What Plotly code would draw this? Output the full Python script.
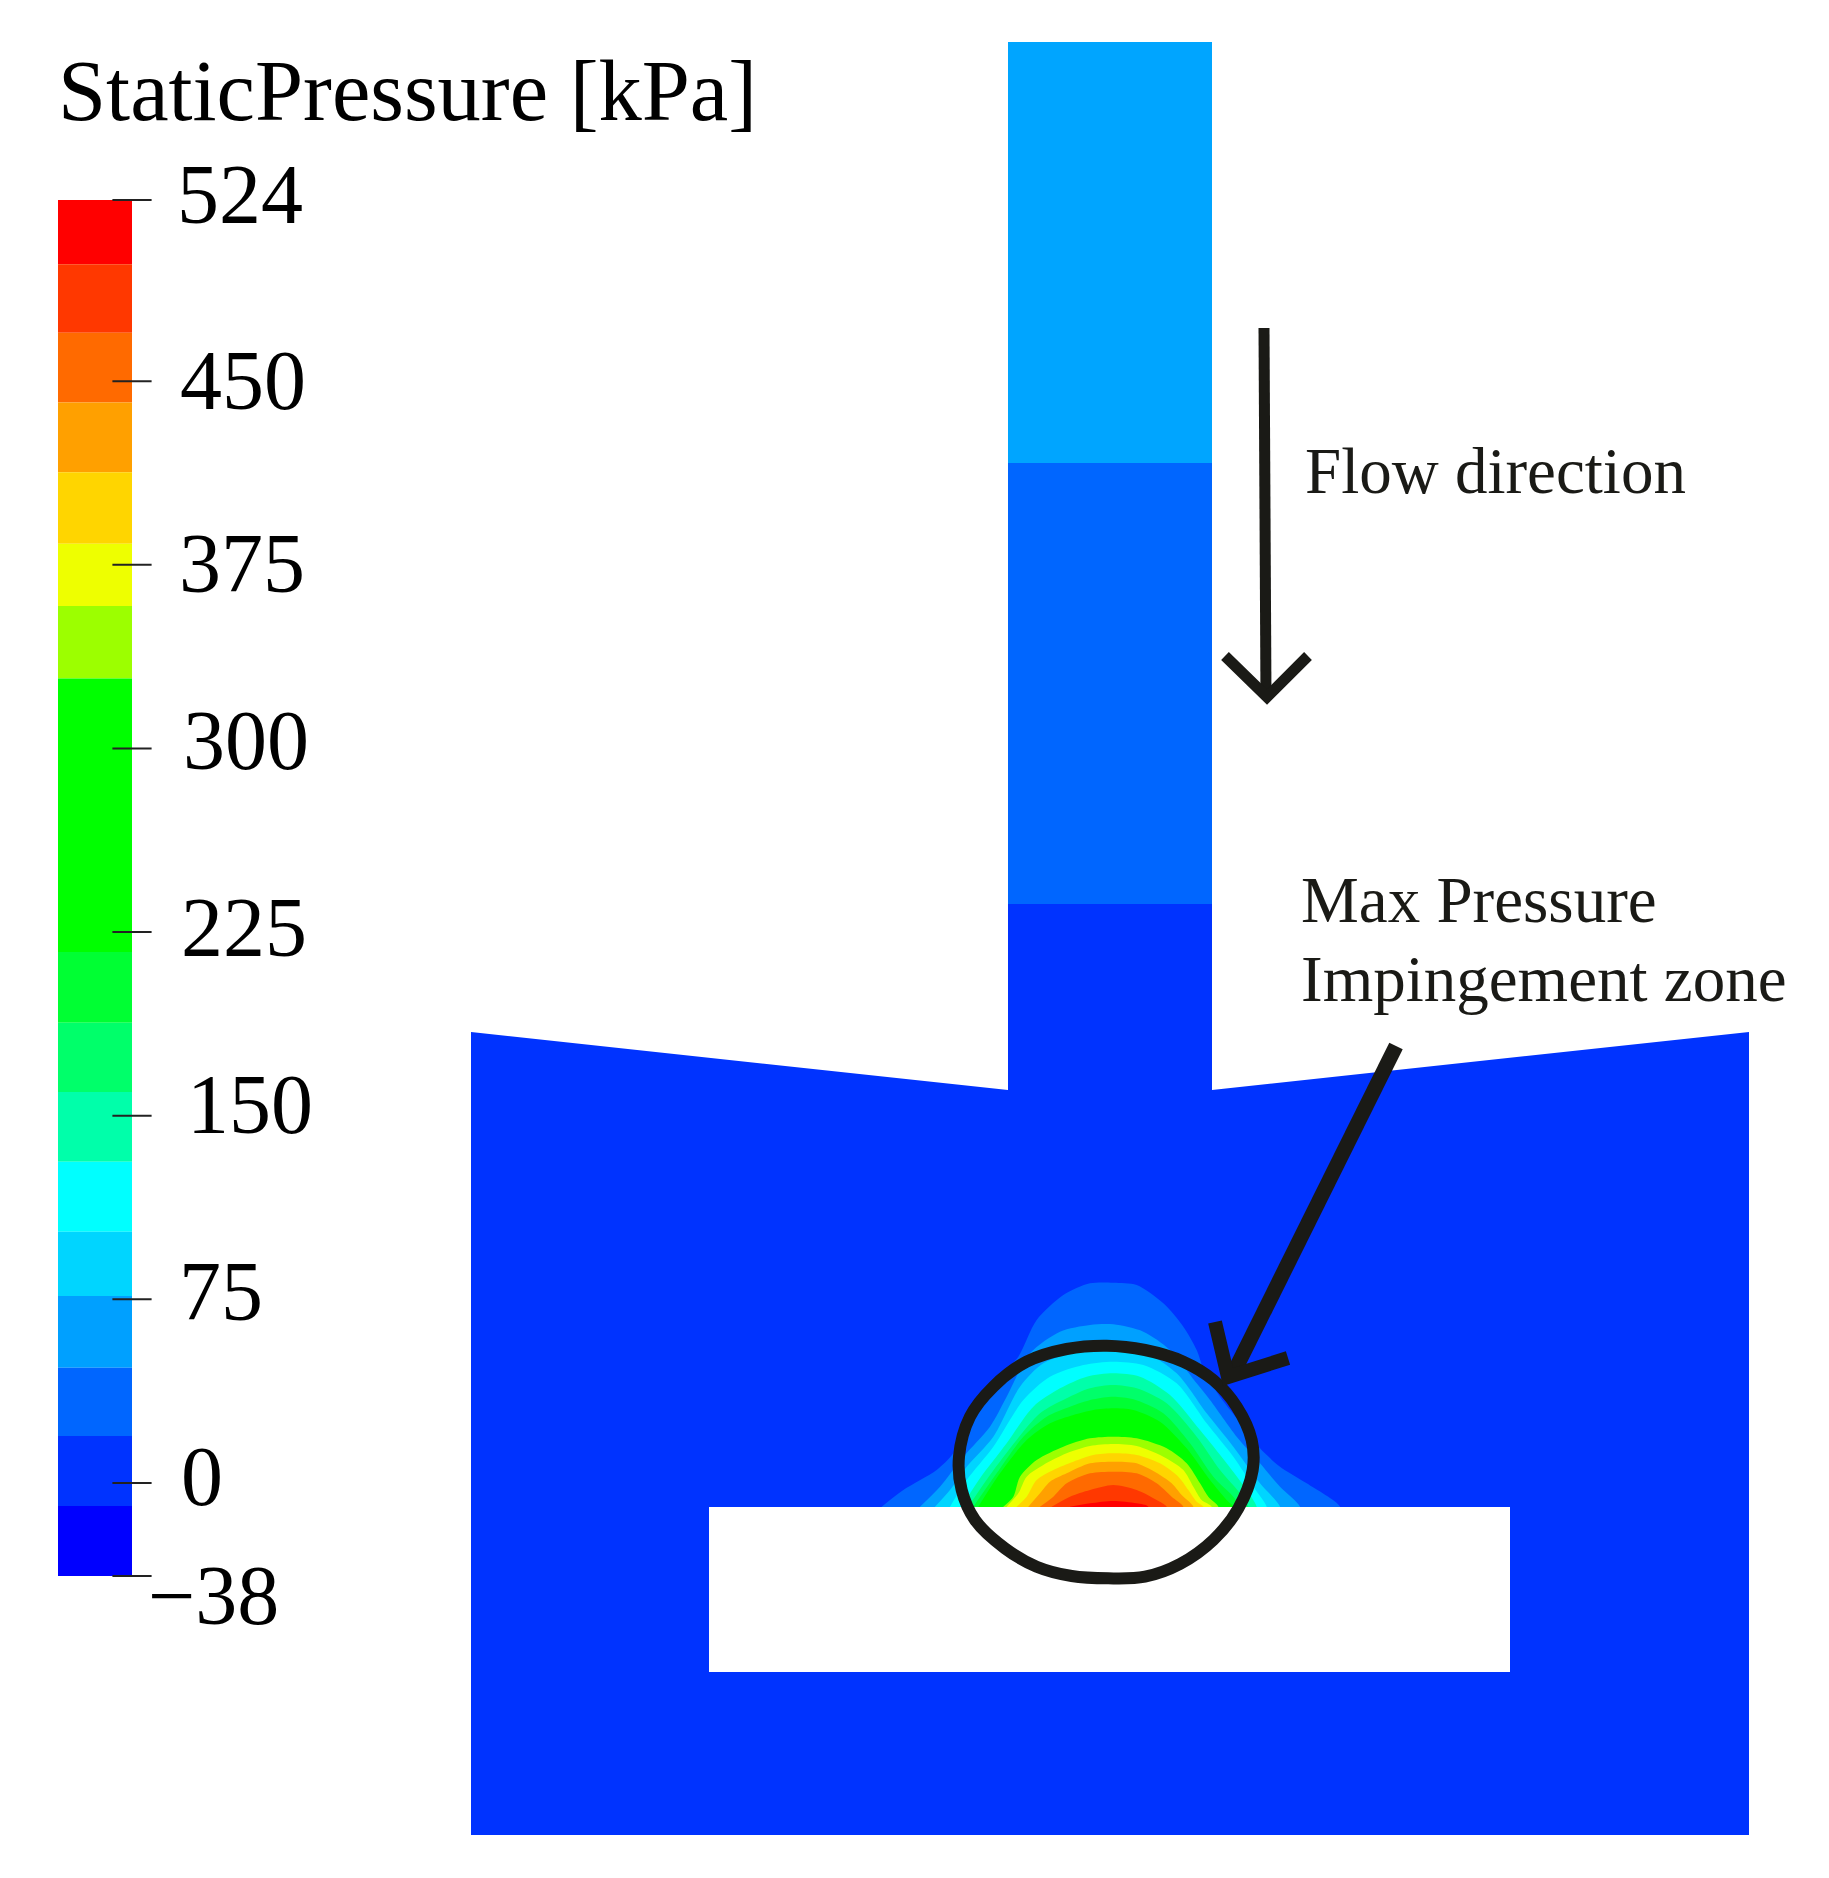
import numpy as np
import plotly.graph_objects as go

W, H = 1829, 1878

# colour scale bands, kPa, top to bottom
band_edges = [524, 497.8, 469.8, 441.3, 412.8, 383.6, 358.2, 328.6, 216.9, 188.0, 159.7,
              131.2, 102.6, 76.4, 47.1, 19.2, -9.4, -38]
band_colors = ['#FF0000', '#FF3800', '#FF6A00', '#FFA000', '#FFD500', '#EEFF00', '#9CFF00', '#00FF00',
               '#00FF33', '#00FF6A', '#00FFAA', '#00FFFF', '#00D5FF', '#00A0FF', '#0066FF', '#0033FF', '#0000FF']
tick_values = [524, 450, 375, 300, 225, 150, 75, 0, -38]
tick_labels = ['524', '450', '375', '300', '225', '150', '75', '0', '\u221238']
tick_label_x = [175, 178, 177, 181, 179, 185, 177, 179, 146]
tick_label_base = [223, 409, 592, 769, 956, 1133, 1320, 1505, 1624]

# domain outline
body_x = [471, 1008, 1008, 1212, 1212, 1749, 1749, 471, 471]
body_y = [1032, 1090, 42, 42, 1090, 1032, 1835, 1835, 1032]
pipe_upper_x = [1008, 1212, 1212, 1008, 1008]
pipe_upper_y = [42, 42, 463, 463, 42]
pipe_mid_x = [1008, 1212, 1212, 1008, 1008]
pipe_mid_y = [463, 463, 904, 904, 463]
obstacle_x = [709, 1510, 1510, 709, 709]
obstacle_y = [1507, 1507, 1672, 1672, 1507]

# pressure contours around the stagnation point, outer to inner
# (read off a 3x crop whose corner is at 850,1240)
contour_colors = ['#0066FF', '#00A0FF', '#00D5FF', '#00FFFF', '#00FFAA', '#00FF6A', '#00FF33', '#00FF00',
                  '#9CFF00', '#EEFF00', '#FFD500', '#FFA000', '#FF6A00', '#FF3800', '#FF0000']
contour_x = [
    [95, 160, 260, 310, 380, 440, 505, 560, 640, 720, 790, 860, 940, 1000, 1040, 1065, 1110, 1180, 1230, 1290, 1370, 1470],
    [210, 270, 340, 420, 470, 540, 630, 720, 790, 880, 960, 1040, 1080, 1160, 1230, 1290, 1350],
    [255, 300, 350, 430, 510, 580, 680, 780, 880, 980, 1070, 1150, 1230, 1290],
    [300, 350, 430, 520, 600, 700, 790, 880, 980, 1070, 1150, 1210, 1250],
    [335, 390, 470, 550, 630, 710, 790, 870, 960, 1050, 1130, 1190, 1220],
    [355, 420, 500, 570, 650, 720, 790, 860, 950, 1040, 1110, 1170, 1195],
    [370, 440, 520, 590, 660, 730, 790, 850, 940, 1020, 1090, 1150, 1170],
    [385, 450, 530, 600, 670, 730, 790, 850, 930, 1010, 1080, 1130, 1150],
    [460, 490, 510, 560, 640, 720, 790, 860, 950, 1010, 1050, 1075, 1105],
    [470, 505, 530, 580, 650, 720, 790, 860, 940, 1000, 1030, 1055, 1085],
    [500, 530, 560, 610, 670, 730, 790, 860, 930, 985, 1015, 1040, 1060],
    [535, 570, 600, 650, 720, 790, 860, 930, 965, 995, 1030],
    [570, 610, 650, 720, 790, 860, 920, 965, 1000],
    [605, 660, 720, 790, 860, 920, 950],
    [660, 720, 790, 860, 895],
]
contour_y = [
    [800, 750, 690, 640, 500, 420, 350, 240, 165, 130, 128, 135, 190, 260, 330, 400, 470, 560, 625, 680, 730, 800],
    [800, 740, 650, 560, 470, 340, 275, 255, 253, 275, 330, 430, 480, 590, 670, 740, 800],
    [800, 750, 680, 590, 440, 370, 335, 325, 335, 400, 520, 620, 730, 800],
    [800, 720, 620, 480, 410, 375, 365, 375, 430, 550, 650, 740, 800],
    [800, 715, 610, 500, 445, 410, 400, 410, 465, 570, 670, 750, 800],
    [800, 705, 600, 520, 475, 445, 435, 445, 490, 590, 690, 760, 800],
    [800, 700, 590, 530, 500, 478, 470, 478, 520, 610, 710, 770, 800],
    [800, 700, 600, 550, 525, 510, 505, 510, 545, 625, 720, 780, 800],
    [800, 770, 710, 660, 620, 595, 590, 595, 625, 670, 730, 770, 800],
    [800, 760, 710, 675, 640, 618, 612, 618, 650, 690, 740, 780, 800],
    [800, 770, 720, 690, 665, 645, 640, 645, 670, 710, 750, 785, 800],
    [800, 760, 725, 700, 670, 665, 670, 705, 730, 765, 800],
    [800, 770, 730, 700, 695, 700, 730, 770, 800],
    [800, 770, 750, 735, 750, 780, 800],
    [800, 790, 783, 790, 800],
]
ring_x = [770, 650, 530, 430, 360, 327, 335, 375, 465, 560, 665, 775, 885, 990, 1090, 1165, 1208, 1205, 1160, 1090, 1000, 885, 770]
ring_y = [317, 327, 365, 440, 530, 650, 750, 840, 925, 980, 1008, 1015, 1010, 972, 900, 805, 690, 600, 500, 420, 365, 330, 317]

flow_shaft_x = [1264, 1266]
flow_shaft_y = [328, 698]
flow_head_x = [1225, 1267, 1308]
flow_head_y = [656, 697, 656]
zone_shaft_x = [1396, 1232]
zone_shaft_y = [1046, 1376]
zone_head_x = [1215, 1228, 1288]
zone_head_y = [1322, 1377, 1358]

INK = '#1A1A16'
FONT = 'Liberation Serif'


def crop_x(xs):
    return 850 + np.array(xs) / 3


def crop_y(ys):
    return 1240 + np.array(ys) / 3


def add_poly(fig, xs, ys, color):
    fig.add_trace(go.Scatter(x=xs, y=ys, mode='lines', fill='toself', fillcolor=color,
                             line=dict(width=0, color=color), hoverinfo='skip', showlegend=False))


def add_stroke(fig, xs, ys, width, shape='linear'):
    fig.add_trace(go.Scatter(x=xs, y=ys, mode='lines', line=dict(width=width, color=INK, shape=shape),
                             hoverinfo='skip', showlegend=False))


def add_text(fig, text, x, baseline, size, color='#000000'):
    # plotly centres the text box, Liberation Serif sits 0.3375 em above the baseline there
    fig.add_annotation(text=text, x=x, y=baseline - 0.3375 * size, xref='x', yref='y', xanchor='left',
                       yanchor='middle', showarrow=False, font=dict(family=FONT, size=size, color=color))


fig = go.Figure()

add_poly(fig, body_x, body_y, '#0033FF')
add_poly(fig, pipe_upper_x, pipe_upper_y, '#00A5FF')
add_poly(fig, pipe_mid_x, pipe_mid_y, '#0066FF')

for cx, cy, color in zip(contour_x, contour_y, contour_colors):
    xs = list(crop_x(cx)) + [crop_x(cx[-1]), crop_x(cx[0])]
    ys = list(crop_y(cy)) + [crop_y(830), crop_y(830)]
    fig.add_trace(go.Scatter(x=xs, y=ys, mode='lines', fill='toself', fillcolor=color,
                             line=dict(width=0, color=color, shape='spline', smoothing=0.8),
                             hoverinfo='skip', showlegend=False))

add_poly(fig, obstacle_x, obstacle_y, '#FFFFFF')

add_stroke(fig, crop_x(ring_x), crop_y(ring_y), 12, 'spline')
add_stroke(fig, flow_shaft_x, flow_shaft_y, 11)
add_stroke(fig, flow_head_x, flow_head_y, 11)
add_stroke(fig, zone_shaft_x, zone_shaft_y, 15)
add_stroke(fig, zone_head_x, zone_head_y, 14)

# colour bar, drawn on its own kPa axis
heights = np.diff(band_edges)
fig.add_trace(go.Bar(x=[0] * len(heights), y=heights, base=band_edges[:-1], width=1, xaxis='x2', yaxis='y2',
                     marker=dict(color=band_colors, line=dict(width=0)), hoverinfo='skip', showlegend=False))
fig.add_trace(go.Scatter(x=[0.5] * len(tick_values), y=tick_values, mode='markers', xaxis='x2', yaxis='y2',
                         marker=dict(symbol='line-ew', size=28, line=dict(width=2, color='#222222')),
                         cliponaxis=False, hoverinfo='skip', showlegend=False))

add_text(fig, 'StaticPressure [kPa]', 56, 120, 86.5)
for label, x, base in zip(tick_labels, tick_label_x, tick_label_base):
    add_text(fig, label, x, base, 84)
add_text(fig, 'Flow direction', 1303, 493, 65, INK)
add_text(fig, 'Max Pressure', 1299, 922, 65, INK)
add_text(fig, 'Impingement zone', 1299, 1001, 65, INK)

fig.update_layout(
    width=W,
    height=H,
    margin=dict(l=0, r=0, t=0, b=0),
    paper_bgcolor='white',
    plot_bgcolor='white',
    showlegend=False,
    barmode='overlay',
    xaxis=dict(range=[0, W], visible=False, domain=[0, 1]),
    yaxis=dict(range=[H, 0], visible=False, domain=[0, 1]),
    xaxis2=dict(range=[-0.5, 0.5], visible=False, domain=[58 / W, 132 / W], anchor='y2'),
    yaxis2=dict(range=[-38, 524], visible=False, domain=[1 - 1576 / H, 1 - 200 / H], anchor='x2'),
)

# the default page keeps an 8 px body margin, which would shift everything
fig.write_html("out.html", config={'displayModeBar': False}, post_script="document.body.style.margin='0';")
